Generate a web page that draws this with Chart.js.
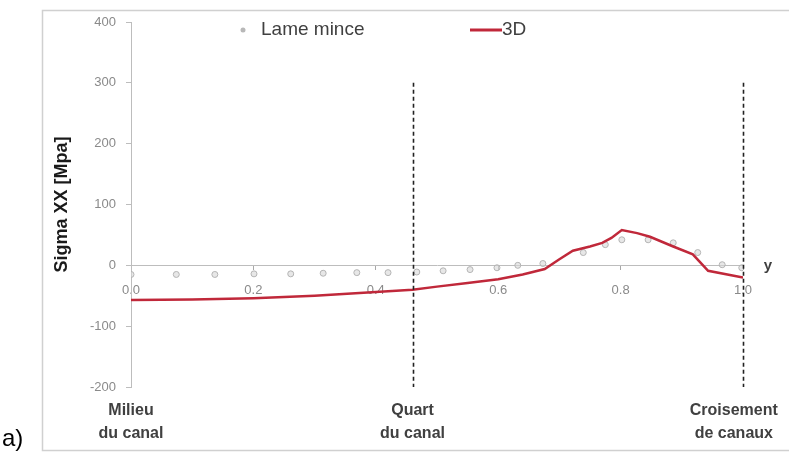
<!DOCTYPE html>
<html>
<head>
<style>
  body { margin: 0; background: #fff; }
  #wrap { position: relative; width: 789px; height: 455px; }
</style>
</head>
<body>
<script src="https://cdn.jsdelivr.net/npm/chart.js"></script>
<div id="wrap"><canvas id="canvas" width="789" height="455"></canvas></div>
<script>
// Lame mince (thin plate) points
const lameX = [0, 0.074, 0.137, 0.201, 0.261, 0.314, 0.369, 0.42, 0.467, 0.51, 0.554, 0.598, 0.632, 0.673, 0.739, 0.775, 0.802, 0.845, 0.886, 0.926, 0.966, 0.998];
const lameY = [-15, -15, -15, -14, -14, -13, -12, -12, -11, -9, -7, -4, 0, 3, 21, 34, 42, 42, 37, 21, 1, -4];
// 3D curve
const x3d = [0, 0.1, 0.2, 0.3, 0.4, 0.46, 0.5, 0.55, 0.6, 0.64, 0.676, 0.7, 0.722, 0.75, 0.77, 0.785, 0.802, 0.827, 0.848, 0.886, 0.918, 0.943, 1.0];
const y3d = [-57, -56, -54, -50, -44, -40, -35, -29, -23, -15, -6, 10, 24, 31, 37, 45, 58, 53, 47, 31, 18, -9, -20];

const xTicks = [0, 0.2, 0.4, 0.6, 0.8, 1.0];
const yTicks = [-200, -100, 0, 100, 200, 300, 400];
const markLines = [0.46, 1.0];
const markLabels = [["Milieu", "du canal"], ["Quart", "du canal"], ["Croisement", "de canaux"]];
const markLabelX = [0, 0.46, 0.985];

function pts(xs, ys) {
    return xs.map((x, i) => ({x: x, y: ys[i]}));
}

const extras = {
    id: 'extras',
    beforeDraw(chart) {
        const c = chart.ctx;
        c.save();
        c.strokeStyle = '#d0d0d0';
        c.lineWidth = 1.5;
        c.strokeRect(42.5, 10.5, 800, 440);
        c.restore();
    },
    afterDraw(chart) {
        const c = chart.ctx;
        const xs = chart.scales.x, ys = chart.scales.y;
        c.save();
        // dashed vertical lines
        c.strokeStyle = '#222';
        c.lineWidth = 1.6;
        c.setLineDash([4, 3]);
        markLines.forEach(v => {
            const px = Math.round(xs.getPixelForValue(v)) + 0.5;
            c.beginPath();
            c.moveTo(px, ys.getPixelForValue(300));
            c.lineTo(px, ys.getPixelForValue(-200));
            c.stroke();
        });
        c.setLineDash([]);
        // bottom labels
        c.fillStyle = '#404040';
        c.font = 'bold 16px "Liberation Sans", Arial, sans-serif';
        c.textAlign = 'center';
        c.textBaseline = 'middle';
        markLabels.forEach((l, i) => {
            const px = xs.getPixelForValue(markLabelX[i]);
            c.fillText(l[0], px, 411);
            c.fillText(l[1], px, 434);
        });
        // axis letter
        c.font = 'bold 15px "Liberation Sans", Arial, sans-serif';
        c.fillText('y', 768, 266);
        // legend
        c.font = '19px "Liberation Sans", Arial, sans-serif';
        c.textAlign = 'left';
        c.fillStyle = '#b8b8b8';
        c.beginPath();
        c.arc(243, 30, 2.5, 0, Math.PI * 2);
        c.fill();
        c.fillStyle = '#404040';
        c.fillText('Lame mince', 261, 30);
        c.strokeStyle = '#c0283a';
        c.lineWidth = 3;
        c.beginPath();
        c.moveTo(470, 30);
        c.lineTo(502, 30);
        c.stroke();
        c.fillText('3D', 502, 30);
        // panel letter
        c.fillStyle = '#000';
        c.font = '24px "Liberation Sans", Arial, sans-serif';
        c.fillText('a)', 2, 439);
        c.restore();
    }
};

new Chart(document.getElementById('canvas'), {
    type: 'scatter',
    data: {
        datasets: [{
            label: 'Lame mince',
            data: pts(lameX, lameY),
            pointRadius: 3,
            pointStyle: 'circle',
            backgroundColor: 'rgba(215,215,215,0.6)',
            borderColor: '#b4b4b4',
            borderWidth: 1,
            showLine: false,
            order: 2
        }, {
            label: '3D',
            data: pts(x3d, y3d),
            showLine: true,
            borderColor: '#c0283a',
            borderWidth: 2.5,
            pointRadius: 0,
            tension: 0,
            order: 1
        }]
    },
    options: {
        responsive: false,
        animation: false,
        layout: { padding: { left: 42, top: 22, right: 46, bottom: 68 } },
        plugins: { legend: { display: false }, tooltip: { enabled: false } },
        scales: {
            x: {
                type: 'linear',
                position: { y: 0 },
                min: 0,
                max: 1,
                afterBuildTicks: s => { s.ticks = xTicks.map(v => ({value: v})); },
                ticks: {
                    color: '#8a8a8a',
                    font: { size: 13, family: '"Liberation Sans", Arial, sans-serif' },
                    padding: 13,
                    maxRotation: 0,
                    callback: v => v.toFixed(1)
                },
                grid: { drawOnChartArea: false, color: '#a8a8a8', tickLength: 4 },
                border: { color: '#bdbdbd', width: 1 }
            },
            y: {
                min: -200,
                max: 400,
                afterBuildTicks: s => { s.ticks = yTicks.map(v => ({value: v})); },
                afterFit: s => { s.width = 89; },
                ticks: {
                    color: '#8a8a8a',
                    font: { size: 13, family: '"Liberation Sans", Arial, sans-serif' },
                    padding: 10
                },
                grid: { drawOnChartArea: false, color: '#bdbdbd', tickLength: 5 },
                border: { color: '#bdbdbd', width: 1 },
                title: {
                    display: true,
                    text: 'Sigma XX [Mpa]',
                    color: '#1a1a1a',
                    font: { size: 18, weight: 'bold', family: '"Liberation Sans", Arial, sans-serif' },
                    padding: { top: 9, bottom: 0 }
                }
            }
        }
    },
    plugins: [extras]
});
</script>
</body>
</html>
